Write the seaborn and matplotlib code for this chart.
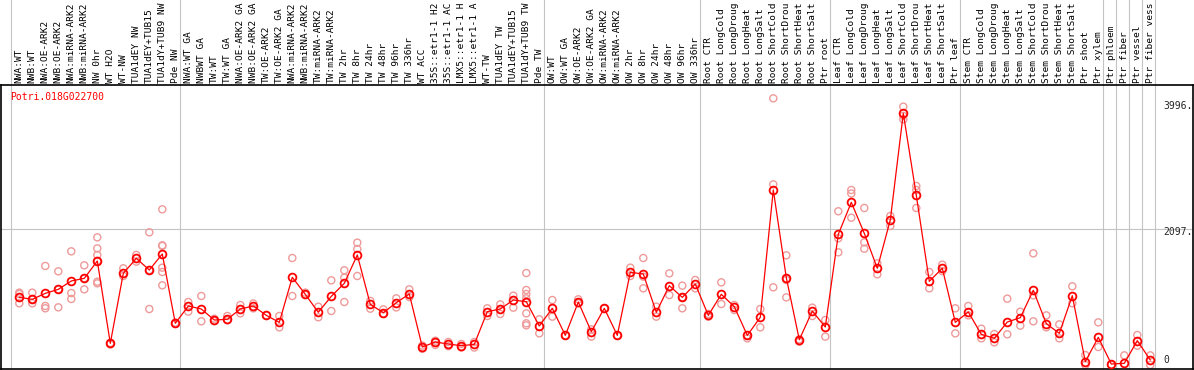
import pandas as pd
import matplotlib
matplotlib.use('Agg')
import matplotlib.pyplot as plt
import seaborn as sns

gene = 'Potri.018G022700'

labels = [
    'NWA:WT', 'NWB:WT', 'NWA:OE-ARK2', 'NWB:OE-ARK2', 'NWA:miRNA-ARK2', 'NWB:miRNA-ARK2',
    'NW 0hr', 'WT H2O', 'WT-NW', 'TUA1dEY NW', 'TUA1dEY+TUB15', 'TUA1dY+TUB9 NW', 'Pde NW',
    'NWA:WT GA', 'NWBWT GA', 'TW:WT', 'TW:WT GA', 'NWA:OE-ARK2 GA', 'NWB:OE-ARK2 GA',
    'TW:OE-ARK2', 'TW:OE-ARK2 GA', 'NWA:miRNA-ARK2', 'NWB:miRNA-ARK2', 'TW:miRNA-ARK2',
    'TW:miRNA-ARK2', 'TW 2hr', 'TW 8hr', 'TW 24hr', 'TW 48hr', 'TW 96hr', 'TW 336hr',
    'WT ACC', '35S::etr1-1 H2', '35S::etr1-1 AC', 'LMX5::etr1-1 H', 'LMX5::etr1-1 A',
    'WT-TW', 'TUA1dEY TW', 'TUA1dEY+TUB15', 'TUA1dY+TUB9 TW', 'Pde TW',
    'OW:WT', 'OW:WT GA', 'OW:OE-ARK2', 'OW:OE-ARK2 GA', 'OW:miRNA-ARK2', 'OW:miRNA-ARK2',
    'OW 2hr', 'OW 8hr', 'OW 24hr', 'OW 48hr', 'OW 96hr', 'OW 336hr',
    'Root CTR', 'Root LongCold', 'Root LongDroug', 'Root LongHeat', 'Root LongSalt',
    'Root ShortCold', 'Root ShortDrou', 'Root ShortHeat', 'Root ShortSalt', 'Ptr root',
    'Leaf CTR', 'Leaf LongCold', 'Leaf LongDroug', 'Leaf LongHeat', 'Leaf LongSalt',
    'Leaf ShortCold', 'Leaf ShortDrou', 'Leaf ShortHeat', 'Leaf ShortSalt', 'Ptr leaf',
    'Stem CTR', 'Stem LongCold', 'Stem LongDroug', 'Stem LongHeat', 'Stem LongSalt',
    'Stem ShortCold', 'Stem ShortDrou', 'Stem ShortHeat', 'Stem ShortSalt',
    'Ptr shoot', 'Ptr xylem', 'Ptr phloem', 'Ptr fiber', 'Ptr vessel', 'Ptr fiber vess',
]

means = [
    1045, 1015, 1107, 1169, 1298, 1339, 1607, 335, 1416, 1648,
    1468, 1715, 644, 912, 865, 695, 706, 865, 912, 767,
    659, 1355, 1092, 814, 1061, 1262, 1700, 937, 808, 963,
    1097, 278, 355, 324, 298, 319, 824, 865, 1004, 978,
    603, 876, 458, 973, 515, 876, 458, 1432, 1406, 814,
    1226, 1045, 1251, 767, 1092, 901, 458, 737, 2704, 1349,
    391, 834, 587, 2019, 2513, 2034, 1494, 2240, 3888, 2622,
    1293, 1494, 659, 819, 474, 412, 664, 731, 1154, 639,
    489, 1071, 51, 428, 15, 26, 376, 77,
]

replicates = [
    [1118, 1097, 953], [1118, 1015, 953], [1530, 912, 876], [1447, 1169, 891],
    [1756, 1112, 1020], [1540, 1339, 1169], [1972, 1802, 1700, 1607, 1287, 1262],
    [340, 320], [1494, 1375], [1700, 1597], [2050, 1468, 865],
    [2405, 1849, 1840, 1504, 1437, 1231], [655, 635], [973, 824], [1066, 675],
    [715, 680], [757, 690], [927, 798], [950, 875], [767], [757, 582],
    [1653, 1066], [1118, 1082], [901, 737], [1308, 834], [1463, 1349, 973],
    [1890, 1792, 1375], [990, 870], [860, 790], [1030, 890], [1169, 1050],
    [300, 250], [375, 310], [355, 290], [325, 270], [355, 270], [876, 757],
    [937, 788], [1071, 886], [1421, 1159, 1097, 1030, 798, 644, 613], [706, 489],
    [1004, 747], [458], [1015, 953], [551, 438], [876], [458], [1504, 1375],
    [1653, 1365, 1185], [901, 747], [1416, 1081], [1226, 1045, 876], [1313, 1185],
    [788, 747], [1277, 942], [927, 850], [458, 412], [865, 582], [4120, 2791, 1200],
    [1694, 1313, 1045], [396, 360], [886, 757], [695, 438], [2375, 1957, 1741],
    [2704, 2650, 2276], [2426, 1895, 1797], [1571, 1401], [2302, 2148],
    [3991, 3850, 3796], [2766, 2704, 2426], [1437, 1185], [1550, 1450], [876, 489],
    [912, 767], [561, 412], [479, 350], [1025, 474], [824, 608], [1725, 1076, 675],
    [767, 582], [628, 412], [1216, 953], [154, 0], [659, 278], [0], [149],
    [463, 298], [149, 0],
]

# first sample of each group (separator lines)
group_starts = [0, 13, 41, 53, 63, 73, 84, 85, 86, 87, 88]
ref_lines = [2097]
right_labels = ['3996.', '2097.', '0']
right_values = [3996, 2097, 0]

mean_df = pd.DataFrame({'idx': range(len(labels)), 'value': means})
rep_df = pd.DataFrame(
    [(i, v) for i, vals in enumerate(replicates) for v in vals],
    columns=['idx', 'value'])

sns.set_style('white')
plt.rcParams['font.family'] = ['DejaVu Sans Mono']

W, H = 1194, 370
fig = plt.figure(figsize=(W / 100, H / 100), dpi=100)
ax = fig.add_axes([1 / W, 1 / H, 1192 / W, 284 / H])

px = 1 / 15.45  # pixels per unit on y
ax.set_xlim((1 - 19.3) / 13, (1193 - 19.3) / 13)
ax.set_ylim(-4 / px, 280 / px)

gray = '#c4c4c4'
for v in ref_lines:
    ax.axhline(v, color=gray, lw=0.8, zorder=0)
ax.vlines([g - 0.64 for g in group_starts], -4 / px, 366 / px,
          colors=gray, lw=0.8, clip_on=False, zorder=0)

sns.scatterplot(data=rep_df, x='idx', y='value', ax=ax, s=26,
                facecolors='none', edgecolor='#ee9a9a', linewidth=1.0, zorder=2)
sns.lineplot(data=mean_df, x='idx', y='value', ax=ax, color='red', lw=0.9,
             marker='o', markersize=5.6, markerfacecolor='none',
             markeredgecolor='red', markeredgewidth=1.3, zorder=3)

ax.set_xticks([])
ax.set_yticks([])
ax.set_xlabel('')
ax.set_ylabel('')
for s in ax.spines.values():
    s.set_visible(True)
    s.set_color('black')
    s.set_linewidth(1.2)

# sample names in the header
hdr = ax.get_xaxis_transform()
for i, lab in enumerate(labels):
    ax.text(i, 1 + 2 / 284, lab, transform=hdr, rotation=90, ha='center',
            va='bottom', fontsize=6.8, color='black', clip_on=False)

ax.text(9 / 1192, (369 - 97) / 284, gene, transform=ax.transAxes,
        color='red', fontsize=7, ha='left', va='center')

lab_tr = ax.get_yaxis_transform()
for txt, v in zip(right_labels, right_values):
    va = {'3996.': 'center', '2097.': 'top', '0': 'bottom'}[txt]
    ax.text((1163 - 1) / 1192, v - (3 / px if txt == '2097.' else 0), txt,
            transform=lab_tr, fontsize=7, ha='left', va='center' if txt != '0' else 'bottom')

fig.savefig('out.png', dpi=100)
